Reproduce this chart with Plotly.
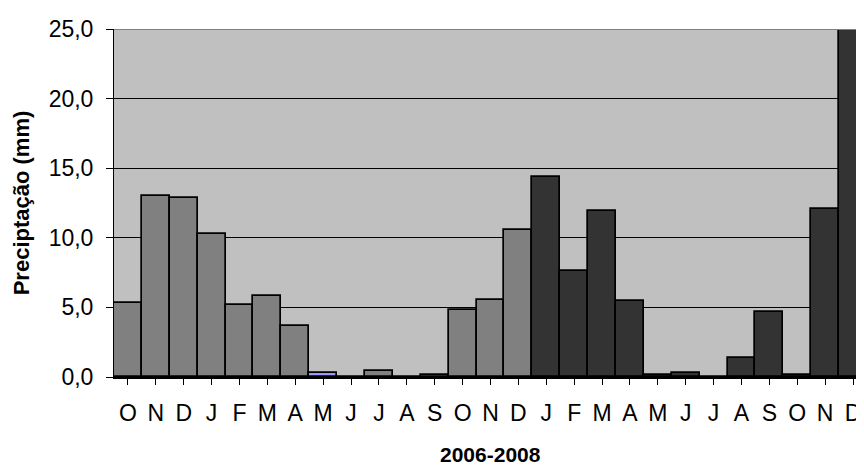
import plotly.graph_objects as go

months = ["O", "N", "D", "J", "F", "M", "A", "M", "J", "J", "A", "S", "O", "N",
          "D", "J", "F", "M", "A", "M", "J", "J", "A", "S", "O", "N", "D"]
precip = [5.3, 13.0, 12.85, 10.3, 5.2, 5.8, 3.7, 0.3, 0.0, 0.45, 0.0, 0.15, 4.8, 5.55,
          10.55, 14.4, 7.6, 11.9, 5.45, 0.15, 0.3, 0.0, 1.4, 4.65, 0.15, 12.1, 24.9]
bar_colors = (["#808080"] * 7 + ["#9999FF"] + ["#808080"] * 7 + ["#333333"] * 12)

x_idx = list(range(len(months)))

fig = go.Figure()
fig.add_trace(go.Bar(
    x=x_idx, y=precip,
    marker=dict(color=bar_colors, line=dict(color="#000000", width=1.7)),
    width=1.0,
))

FONT = "Liberation Sans, Arial, sans-serif"

fig.update_layout(
    width=864, height=465,
    margin=dict(l=106, r=5, t=21, b=96),
    paper_bgcolor="white",
    plot_bgcolor="#C0C0C0",
    showlegend=False,
    bargap=0,
    separators=",.",
    font=dict(family=FONT, color="#000000"),
    xaxis=dict(
        tickmode="array", tickvals=x_idx, ticktext=months,
        range=[-0.5, 26.5],
        tickfont=dict(size=23, family=FONT),
        ticks="outside", ticklen=6, tickcolor="#000000", tickwidth=1,
        tickson="boundaries",
        ticklabelstandoff=8,
        showline=True, linecolor="#000000", linewidth=2,
        showgrid=False, zeroline=False,
    ),
    yaxis=dict(
        range=[0, 25], tick0=0, dtick=5, tickformat=".1f",
        tickfont=dict(size=23, family=FONT),
        ticks="outside", ticklen=7, tickcolor="#000000",
        ticklabelstandoff=8,
        showline=True, linecolor="#000000", linewidth=1,
        showgrid=True, gridcolor="#000000", gridwidth=1,
        zeroline=False,
        title=dict(text="<b>Preciptação (mm)</b>", font=dict(size=22, family=FONT), standoff=12),
    ),
    shapes=[dict(type="line", xref="paper", yref="y", x0=0, x1=1, y0=25, y1=25,
                 line=dict(color="#808080", width=2), layer="above")],
    annotations=[dict(text="<b>2006-2008</b>", xref="paper", yref="paper",
                      x=0.5, y=-0.222, xanchor="center", yanchor="middle",
                      showarrow=False, font=dict(size=21, family=FONT))],
)

fig.write_html("out.html")
